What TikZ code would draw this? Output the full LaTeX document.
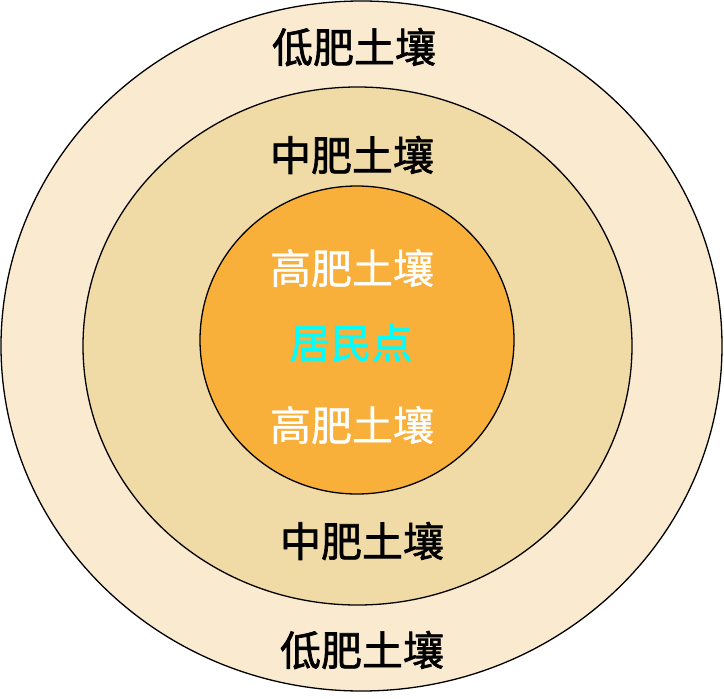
\documentclass[tikz,border=0pt]{standalone}
\usepackage{fontspec}
\newfontfamily\cjkb[FakeBold=1.6]{Noto Sans CJK SC}
\newfontfamily\cjkw[FakeBold=0.8]{Noto Sans CJK SC}
\definecolor{lowsoil}{HTML}{FAEBD0}
\definecolor{midsoil}{HTML}{F0DBA7}
\definecolor{highsoil}{HTML}{F9B03A}
\definecolor{townc}{HTML}{00FFFF}
\begin{document}
\begin{tikzpicture}[x=1pt,y=-1pt,
  ring/.style={draw=black,line width=1.3pt},
  lbl/.style={font=\cjkb\fontsize{41}{44}\selectfont,inner sep=0pt,text=black},
  wlbl/.style={font=\cjkw\fontsize{41}{44}\selectfont,inner sep=0pt,text=white}]
\useasboundingbox (0,0) rectangle (724,699);
\draw[ring,fill=lowsoil] (361.5,346) ellipse [x radius=360.5, y radius=345];
\draw[ring,fill=midsoil] (357.5,346) ellipse [x radius=274.5, y radius=259];
\draw[ring,fill=highsoil] (357,340) ellipse [x radius=157, y radius=154];
\node[lbl] (low1) at (354,47) {低肥土壤};
\node[lbl] (mid1) at (352,155) {中肥土壤};
\node[wlbl] (high1) at (352,268) {高肥土壤};
\node[lbl,text=townc] (town) at (351,343) {居民点};
\node[wlbl] (high2) at (352,425) {高肥土壤};
\node[lbl] (mid2) at (362,541) {中肥土壤};
\node[lbl] (low2) at (362,650) {低肥土壤};
\end{tikzpicture}
\end{document}
